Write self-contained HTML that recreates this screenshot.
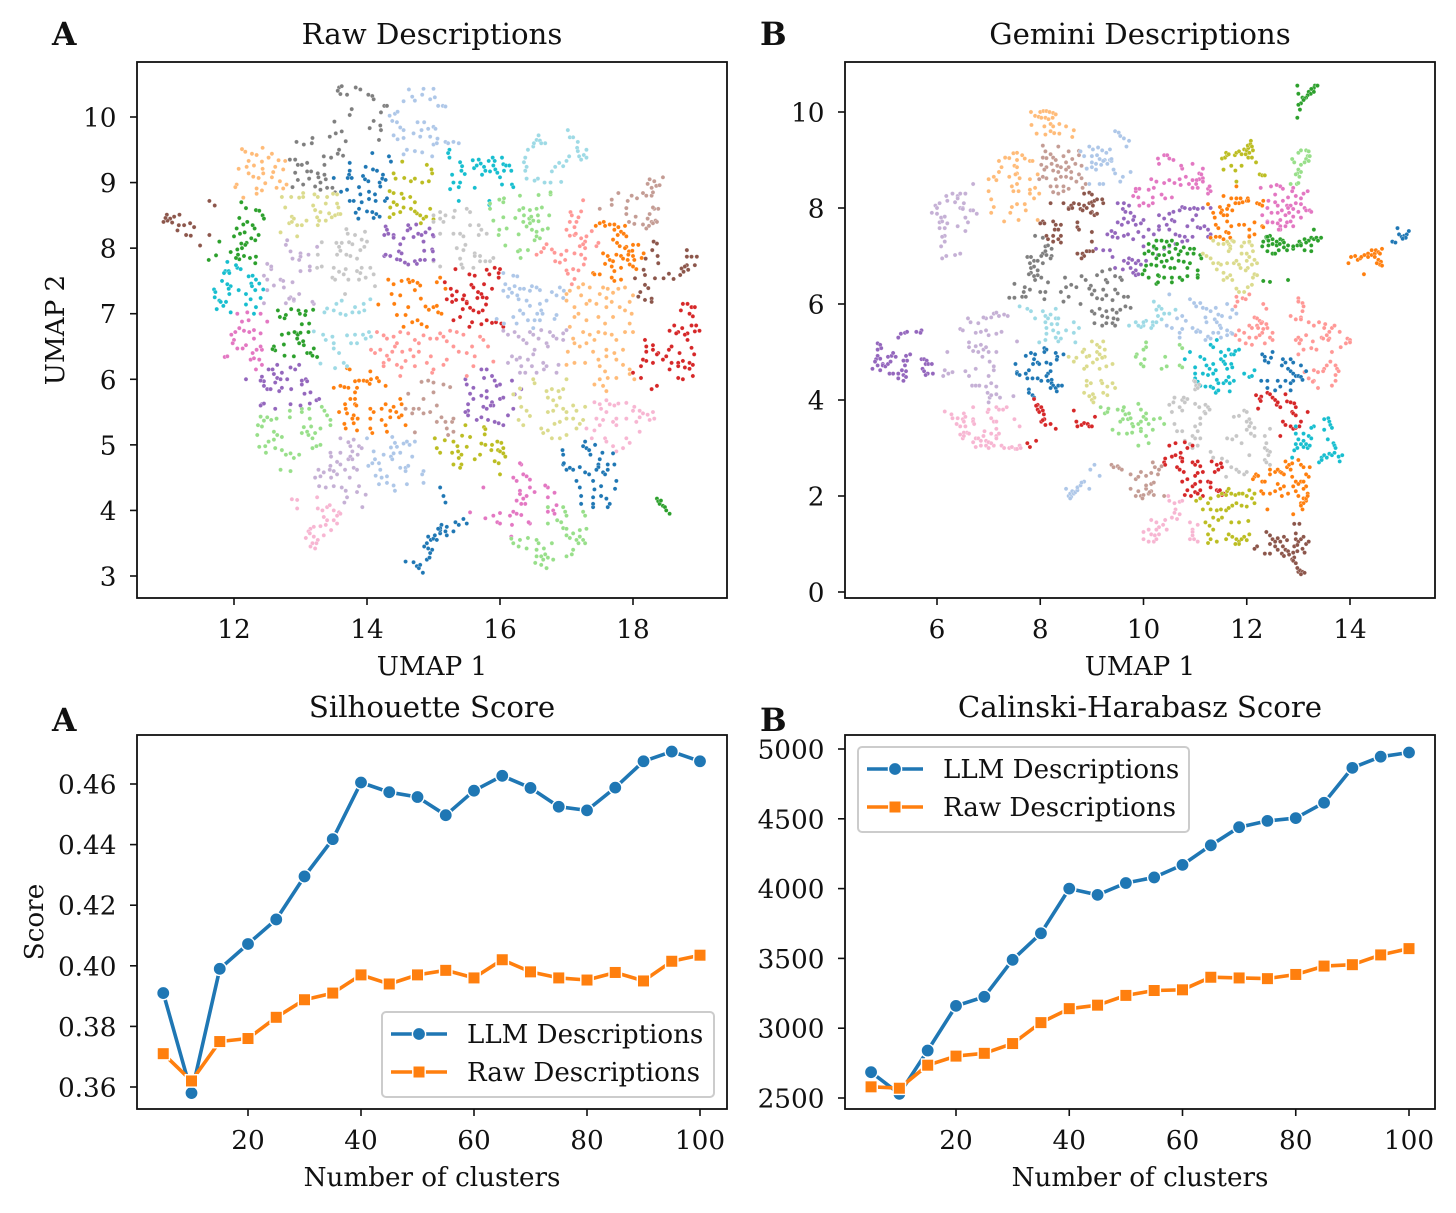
<!DOCTYPE html>
<html lang="en">
<head>
<meta charset="utf-8">
<title>UMAP clusters and cluster quality scores</title>
<style>
html,body{margin:0;padding:0;background:#fff;width:1456px;height:1213px;overflow:hidden}
svg{display:block}
text{font-family:"DejaVu Serif","Liberation Serif",serif;fill:#111}
</style>
</head>
<body>
<svg id="figure" xmlns="http://www.w3.org/2000/svg" width="1456" height="1213" viewBox="0 0 1456 1213"></svg>
<script>
// ---------- Line chart data ----------
const clusterCounts=[5,10,15,20,25,30,35,40,45,50,55,60,65,70,75,80,85,90,95,100];
const silhouetteLLM=[.391,.358,.399,.4072,.4153,.4295,.4418,.4605,.4573,.4557,.4497,.4578,.4627,.4587,.4525,.4513,.4588,.4675,.4707,.4675];
const silhouetteRaw=[.371,.362,.375,.376,.383,.3888,.391,.397,.394,.397,.3985,.396,.402,.398,.396,.3953,.3978,.395,.4015,.4035];
const calinskiLLM=[2685,2530,2840,3160,3225,3490,3680,4000,3955,4040,4080,4170,4310,4440,4485,4505,4615,4865,4945,4975];
const calinskiRaw=[2580,2570,2735,2800,2820,2890,3040,3140,3165,3235,3270,3275,3365,3360,3355,3385,3445,3455,3525,3570];
const clusterTicks=[20,40,60,80,100];
const silhouetteTicks=[0.36,0.38,0.40,0.42,0.44,0.46];
const calinskiTicks=[2500,3000,3500,4000,4500,5000];
const umapARawXTicks=[12,14,16,18];
const umapARawYTicks=[3,4,5,6,7,8,9,10];
const umapBGemXTicks=[6,8,10,12,14];
const umapBGemYTicks=[0,2,4,6,8,10];

// ---------- Panel A scatter data (x,y pairs in UMAP units) ----------
const aBrownL=[10.99,8.51,10.94,8.40,11.04,8.45,11.10,8.48,11.18,8.51,11.07,8.39,11.17,8.35,11.25,8.35,11.34,8.38,11.40,8.32,11.15,8.27,11.28,8.20,11.35,8.19,11.63,8.20,11.49,8.04,11.63,8.72,11.71,8.65,11.00,8.42,10.97,8.46];
const aBrownR=[18.31,8.10,18.36,8.07,18.29,7.97,18.37,7.88,18.19,7.84,18.38,7.77,18.16,7.67,18.03,7.54,18.18,7.59,18.33,7.54,18.46,7.54,18.54,7.61,18.61,7.53,18.71,7.59,18.73,7.69,18.81,7.74,18.83,7.67,18.93,7.74,18.81,7.97,18.81,7.87,18.88,7.87,18.96,7.87,18.18,7.44,18.11,7.33,18.23,7.39,18.08,7.26,18.18,7.21,18.28,7.23,18.28,7.18,18.78,7.72,18.76,7.64];
const aPeachTL=[12.12,9.51,12.17,9.47,12.43,9.53,12.27,9.44,12.34,9.42,12.57,9.44,12.52,9.38,12.22,9.33,12.42,9.32,12.67,9.34,12.77,9.33,12.07,9.21,12.19,9.24,12.30,9.26,12.43,9.21,12.62,9.24,12.74,9.20,12.22,9.14,12.44,9.14,12.59,9.16,12.29,9.09,12.37,9.07,12.57,9.08,12.69,9.02,12.04,8.97,12.02,8.93,12.34,8.91,12.47,8.99,12.79,8.97,12.64,8.92,12.74,8.91,12.42,8.88,12.34,8.83,12.14,8.77];
const aGray=[13.58,10.45,13.62,10.47,13.56,10.40,13.60,10.35,13.70,10.34,13.83,10.45,13.90,10.42,14.02,10.34,14.08,10.32,14.10,10.27,14.26,10.17,14.30,10.17,14.21,10.07,13.77,10.12,13.74,10.03,14.10,9.94,14.20,9.87,14.04,9.83,14.21,9.80,13.51,9.93,13.44,9.70,13.53,9.75,13.62,9.78,14.18,9.65,13.68,9.63,12.94,9.62,13.05,9.58,13.17,9.60,13.18,9.68,13.58,9.50,13.56,9.44,13.35,9.40,13.46,9.38,13.64,9.41,12.84,9.35,12.92,9.35,12.96,9.27,13.02,9.27,13.10,9.30,13.36,9.27,12.92,9.15,13.10,9.17,13.16,9.17,13.26,9.14,13.36,9.12,13.38,9.05,13.27,9.08,12.96,9.04,13.13,9.06,13.04,8.97,12.88,8.93,13.22,8.94,13.30,9.00,13.30,8.89,13.40,8.92,13.48,8.92,13.52,8.85];
const aLightBlueTop=[14.63,10.42,14.85,10.43,14.83,10.34,14.68,10.31,14.55,10.24,14.72,10.25,14.95,10.27,15.00,10.43,15.02,10.30,15.07,10.17,15.14,10.17,15.18,10.16,14.34,10.02,14.42,10.05,14.46,10.08,14.38,9.94,14.45,9.92,14.76,9.92,14.86,9.92,14.50,9.84,14.55,9.80,14.70,9.75,14.82,9.80,14.92,9.82,15.00,9.85,15.03,9.82,14.40,9.72,14.46,9.66,14.55,9.68,14.80,9.70,14.95,9.70,15.06,9.67,15.18,9.62,15.22,9.60,15.30,9.62,15.38,9.60,15.00,9.58,14.60,9.50,14.55,9.43,14.72,9.48,14.83,9.46,14.98,9.40,15.05,9.60];
const aBlueTop=[14.08,9.45,14.33,9.40,14.36,9.32,13.74,9.30,13.98,9.24,14.09,9.20,14.15,9.18,13.74,9.18,13.73,9.12,13.71,9.07,13.77,9.07,13.50,9.07,13.94,9.10,13.97,9.05,14.24,9.12,14.23,9.06,14.28,9.04,14.02,9.02,14.19,9.00,14.20,8.94,13.88,8.93,13.61,8.86,13.70,8.89,14.03,8.86,14.12,8.82,13.90,8.82,14.03,8.75,14.13,8.72,13.74,8.72,13.80,8.72,13.92,8.70,14.27,8.72,14.30,8.76,13.88,8.60,14.00,8.56,14.08,8.55,13.83,8.54,14.14,8.52,14.10,8.46,14.19,8.48,13.87,8.45];
const aOlive=[14.53,9.32,14.90,9.27,14.97,9.20,14.40,9.14,14.43,9.06,14.56,9.07,14.66,9.02,14.72,9.06,14.83,9.00,14.93,9.02,14.98,9.14,14.34,8.87,14.40,8.84,14.52,8.83,14.65,8.78,14.72,8.70,14.55,8.76,14.40,8.70,14.35,8.62,14.45,8.66,14.55,8.62,14.66,8.60,14.50,8.55,14.40,8.52,14.34,8.47,14.75,8.53,14.80,8.50,14.72,8.56,14.85,8.45,14.81,8.38,14.89,8.48,14.95,8.60,15.00,8.44];
const aCyanTop=[15.24,9.50,15.22,9.45,15.24,9.38,15.40,9.31,15.43,9.25,15.42,9.18,15.47,9.13,15.59,9.34,15.68,9.35,15.71,9.29,15.83,9.33,15.89,9.38,15.92,9.33,16.03,9.38,15.61,9.22,15.65,9.26,15.76,9.24,15.78,9.18,15.90,9.26,15.93,9.20,16.05,9.28,16.09,9.26,16.14,9.26,16.17,9.18,15.73,9.12,15.85,9.17,15.96,9.15,16.00,9.08,16.06,9.18,15.28,9.12,15.30,9.00,15.40,9.00,15.25,8.90,15.38,8.93,15.62,8.92,16.03,8.97,16.18,8.97,16.20,8.93,15.38,8.72,15.84,8.72,15.84,8.66];
const aPaleCyan=[16.38,9.38,16.36,9.31,16.42,9.50,16.50,9.55,16.51,9.60,16.55,9.65,16.58,9.72,16.60,9.64,16.62,9.60,16.68,9.60,16.40,9.24,16.38,9.18,16.40,9.06,16.57,9.06,16.52,9.03,16.67,9.00,16.76,9.00,16.78,9.17,16.83,9.24,16.89,9.30,16.95,9.25,17.00,9.33,17.04,9.40,16.92,9.01,17.02,9.80,17.05,9.69,17.10,9.69,17.17,9.62,17.16,9.53,17.17,9.48,17.26,9.42,17.30,9.38,17.19,9.40,17.22,9.35,17.30,9.50];
const aLightGreen=[15.99,8.74,16.06,8.76,16.05,8.70,15.85,8.68,15.85,8.60,16.30,8.80,16.58,8.81,16.76,8.82,16.76,8.85,16.29,8.58,16.35,8.61,16.45,8.58,16.55,8.60,16.63,8.62,15.90,8.42,16.05,8.47,16.23,8.46,16.36,8.50,16.44,8.45,16.47,8.48,16.57,8.50,16.74,8.50,16.35,8.40,16.45,8.38,16.50,8.42,16.58,8.41,16.40,8.33,16.48,8.28,16.55,8.25,16.64,8.28,16.72,8.30,15.99,8.28,16.10,8.30,15.98,8.20,16.28,8.21,16.55,8.18,16.60,8.15,16.52,8.12,16.08,8.04,16.30,7.97,16.27,7.95,16.31,7.85,16.42,7.97];
const aKhaki=[12.72,8.78,12.86,8.78,12.98,8.77,13.04,8.84,13.04,8.78,13.21,8.82,13.26,8.78,13.40,8.78,13.49,8.83,13.55,8.82,12.77,8.62,13.19,8.65,13.22,8.58,13.38,8.68,13.57,8.62,13.55,8.68,13.30,8.55,13.43,8.53,13.52,8.50,13.47,8.47,13.57,8.52,13.60,8.52,12.87,8.48,12.83,8.38,12.87,8.40,12.90,8.45,12.95,8.35,13.02,8.35,13.09,8.42,13.28,8.42,13.26,8.35,12.70,8.24,12.95,8.18,13.25,8.47,13.38,8.42];
const aGreenTop=[12.11,8.70,12.18,8.61,12.33,8.58,12.43,8.50,12.38,8.57,12.45,8.45,12.08,8.46,12.14,8.36,12.20,8.40,12.28,8.35,12.31,8.30,12.04,8.30,12.09,8.22,12.16,8.24,12.37,8.20,12.00,8.18,12.26,8.15,12.32,8.12,12.11,8.07,12.19,8.08,11.78,8.10,12.05,7.98,12.17,8.05,12.12,8.00,11.95,7.94,12.06,7.90,12.15,7.88,11.73,7.89,11.62,7.82,12.24,7.85,12.33,7.87,12.32,7.77,12.08,7.83,12.03,7.85];
const aGreenLow=[12.86,7.07,12.97,7.05,12.99,7.00,12.78,6.98,13.19,7.06,13.08,7.04,13.07,6.98,12.66,7.05,13.02,6.84,13.13,6.85,12.76,6.93,12.69,6.95,12.94,6.70,12.96,6.68,13.00,6.71,12.95,6.62,12.98,6.55,12.91,6.72,13.12,6.72,13.04,6.58,13.20,6.47,13.05,6.52,12.82,6.70,12.72,6.68,12.75,6.53,12.62,6.44,12.60,6.50,12.58,6.46,12.76,6.36,12.90,6.35,13.10,6.40,13.15,6.40,13.18,6.36,13.25,6.34];
const aCyanLeft=[11.90,7.79,11.87,7.65,11.92,7.65,11.85,7.62,11.93,7.62,12.05,7.70,12.03,7.74,12.10,7.68,11.82,7.50,11.70,7.37,11.72,7.33,11.71,7.25,11.90,7.45,11.95,7.42,11.92,7.38,11.93,7.30,11.78,7.20,11.80,7.18,11.88,7.18,11.84,7.12,11.74,7.07,11.95,7.02,12.22,7.57,12.28,7.58,12.33,7.52,12.38,7.46,12.26,7.46,12.07,7.36,12.18,7.30,12.27,7.42,12.32,7.36,12.44,7.37,12.40,7.24,12.25,7.22,12.18,7.14,12.30,7.00,12.33,7.10];
const aLightGray=[13.69,8.29,13.71,8.22,13.82,8.20,13.97,8.25,13.32,8.09,13.54,8.08,13.58,8.02,13.62,8.08,13.73,8.09,13.78,8.06,13.92,8.13,14.00,8.10,13.96,8.02,13.90,7.97,13.60,7.96,13.26,7.90,13.55,7.90,13.69,7.90,13.75,7.88,13.85,7.84,13.25,7.70,13.32,7.72,13.50,7.70,13.58,7.64,13.68,7.68,13.65,7.60,13.85,7.65,13.90,7.62,13.92,7.70,14.05,7.70,13.48,7.55,13.52,7.52,13.72,7.52,13.88,7.52,13.98,7.55,14.10,7.60,14.12,7.42,13.67,7.30,15.10,8.55,15.00,8.50,15.18,8.50,15.32,8.57,15.50,8.60,15.55,8.55,15.10,8.45,15.30,8.47,15.15,8.40,15.00,8.40,15.55,8.35,15.68,8.35,15.72,8.28,15.10,8.22,15.30,8.22,15.40,8.22,15.45,8.18,15.68,8.20,15.80,8.22,15.48,8.05,15.35,8.00,15.62,7.92,15.45,7.97,15.40,7.84,15.62,7.88,15.70,7.88,15.85,7.80,15.70,7.80,15.78,7.80,15.90,7.85,15.42,7.75,15.00,7.80,15.10,7.72,15.44,7.70,15.60,7.70];
const aPaleLilac=[12.80,8.12,12.78,8.05,13.25,8.02,12.85,7.95,13.00,7.92,13.00,7.87,13.12,7.90,12.88,7.84,12.98,7.82,12.50,7.76,12.56,7.68,12.56,7.72,13.00,7.65,13.14,7.66,13.14,7.72,12.45,7.58,12.50,7.52,12.70,7.52,12.74,7.50,12.75,7.40,12.88,7.48,12.60,7.43,12.50,7.36,12.85,7.25,12.98,7.30,12.83,7.23,12.90,7.20,13.20,7.15,13.18,7.18,12.78,7.16,12.90,7.22,12.45,7.16];
const aPurpleTop=[14.28,8.33,14.30,8.28,14.26,8.20,14.32,8.22,14.40,8.20,14.40,8.16,14.62,8.35,14.65,8.30,14.61,8.27,14.74,8.36,14.77,8.22,14.82,8.20,14.88,8.24,15.00,8.18,14.94,8.30,14.99,8.20,14.70,8.17,14.55,8.15,14.85,8.10,14.98,7.98,14.86,7.96,14.50,8.06,14.48,7.95,14.52,7.92,14.26,7.88,14.28,7.90,14.35,7.88,14.45,7.83,14.50,7.82,14.57,7.78,14.72,7.80,14.75,7.76,14.80,7.82,14.87,7.82,14.99,7.95,14.62,7.75,15.00,7.82];
const aOrangeUp=[14.32,7.52,14.17,7.14,14.40,7.45,14.52,7.50,14.62,7.52,14.69,7.50,14.76,7.47,14.80,7.43,14.72,7.36,14.64,7.48,14.50,7.28,14.37,7.30,14.41,7.15,14.62,7.10,14.81,7.23,14.88,7.11,14.93,7.06,15.00,7.10,15.05,7.12,15.07,7.02,14.76,6.90,14.82,6.84,14.90,6.80,14.58,6.98,14.45,6.98,15.12,7.00,15.05,7.48,15.10,7.55,15.18,7.38,14.55,6.80,14.68,6.87];
const aRedMid=[15.17,7.48,15.33,7.68,15.54,7.60,15.62,7.58,15.57,7.44,15.60,7.40,15.67,7.33,15.72,7.30,15.26,7.38,15.28,7.28,15.35,7.34,15.46,7.28,15.20,7.22,15.28,7.18,15.34,7.21,15.44,7.22,15.50,7.18,15.66,7.24,15.74,7.25,15.80,7.24,15.44,7.07,15.50,7.16,15.55,7.09,15.60,7.05,15.68,7.02,15.74,7.05,15.79,7.14,15.80,6.90,15.88,6.86,15.94,6.87,15.88,7.38,15.76,7.45,15.98,7.62,15.98,7.55,15.80,7.67,15.92,7.70,16.00,7.68,15.84,7.60,15.30,6.90,15.40,6.95,15.58,6.87,15.54,6.80,15.72,6.84,16.02,6.85,16.05,6.80];
const aSalmonUp=[17.25,8.73,17.06,8.55,17.08,8.50,17.22,8.56,17.18,8.47,17.05,8.40,17.15,8.40,17.12,8.32,17.12,8.20,17.00,8.28,17.05,8.19,17.14,8.22,17.30,8.18,17.22,8.15,17.38,8.26,17.28,8.10,17.45,8.03,17.48,8.08,16.70,8.06,16.66,8.00,16.62,7.94,16.55,7.90,16.78,7.98,16.82,7.93,16.92,7.90,17.00,7.96,17.12,7.92,17.20,8.03,17.25,8.06,17.28,8.00,17.22,7.90,17.28,7.84,17.26,7.75,16.83,7.80,16.90,7.78,16.98,7.82,17.00,7.66,17.10,7.68,17.02,7.61,17.18,7.66,17.12,7.53,17.08,7.45];
const aOrangeUpR=[17.44,8.34,17.50,8.38,17.56,8.40,17.58,8.34,17.65,8.36,17.72,8.36,17.78,8.32,17.88,8.34,17.72,8.28,17.82,8.25,17.77,8.20,17.86,8.22,17.90,8.18,17.70,8.13,17.76,8.08,17.80,8.03,17.90,8.02,18.00,8.05,18.08,8.05,17.88,8.00,17.94,7.95,17.99,7.96,17.55,7.92,17.62,7.88,17.75,7.90,17.82,7.88,17.93,7.90,18.00,7.88,18.02,7.82,18.16,7.92,18.13,7.85,17.65,7.82,17.70,7.80,17.85,7.84,17.92,7.82,17.95,7.75,17.58,7.76,17.68,7.72,17.72,7.65,17.82,7.70,18.00,7.72,18.05,7.68,17.40,7.62,17.42,7.60,17.50,7.60,17.68,7.55,17.82,7.52,17.72,7.50];
const aTaupeUp=[18.25,9.05,18.32,9.02,18.45,9.08,18.22,8.98,18.28,8.92,18.35,8.95,18.40,8.96,18.15,8.84,18.20,8.80,18.28,8.80,18.30,8.85,17.78,8.84,17.98,8.80,17.68,8.74,17.68,8.66,17.50,8.60,17.92,8.72,17.90,8.61,18.06,8.76,18.32,8.60,18.30,8.62,18.38,8.60,17.90,8.52,18.04,8.48,18.25,8.52,18.22,8.45,18.28,8.40,18.34,8.42,17.94,8.40,18.02,8.37,18.15,8.36,18.20,8.30,18.24,8.34,18.30,8.38,18.36,8.40,14.82,5.96,14.92,5.98,15.00,5.95,15.15,5.92,15.25,5.88,14.62,5.78,14.85,5.70,15.00,5.80,15.05,5.60,14.58,5.55,14.70,5.55,14.78,5.55,14.68,5.48,14.85,5.48,14.95,5.50,15.05,5.35,15.12,5.42,15.28,5.35,15.30,5.40,15.20,5.25,15.22,5.15,15.30,5.20,15.18,5.35,15.02,5.10,14.72,5.19];
const aPeachBig=[17.25,7.45,17.18,7.40,17.05,7.35,17.00,7.30,17.22,7.28,17.35,7.40,17.55,7.40,17.62,7.38,17.70,7.32,17.78,7.38,17.88,7.40,18.00,7.28,17.95,7.18,17.50,7.30,17.60,7.24,17.68,7.18,17.00,7.20,17.12,7.10,17.18,7.00,17.30,7.15,17.35,7.20,17.45,7.15,17.60,7.10,17.80,7.10,17.88,7.05,17.98,7.00,17.12,6.95,17.30,6.90,17.48,6.95,17.58,6.85,17.70,6.95,17.95,6.85,17.05,6.80,17.10,6.62,17.25,6.72,17.35,6.68,17.48,6.72,17.58,6.70,17.68,6.68,17.75,6.60,17.88,6.72,18.00,6.72,17.12,6.55,17.20,6.50,17.30,6.55,17.42,6.60,17.60,6.45,17.72,6.40,17.85,6.45,17.00,6.22,17.02,6.42,17.12,6.25,17.28,6.25,17.40,6.42,17.48,6.30,17.60,6.35,17.75,6.30,17.85,6.22,17.95,6.15,17.50,6.20,17.58,6.12,17.62,6.02,17.55,5.90,17.42,5.92,17.75,6.02,17.95,6.08,18.02,6.00,17.60,5.82,17.50,6.00];
const aRedRight=[18.75,7.15,18.72,7.05,18.82,7.15,18.88,7.10,18.93,7.10,18.90,6.96,18.85,7.00,18.95,6.82,18.55,6.74,18.62,6.82,18.88,6.82,18.68,6.72,18.74,6.78,18.82,6.70,18.93,6.73,19.00,6.74,18.18,6.60,18.20,6.50,18.30,6.52,18.20,6.42,18.38,6.40,18.30,6.45,18.54,6.45,18.58,6.50,18.70,6.40,18.92,6.38,18.88,6.48,18.82,6.60,18.78,6.68,18.65,6.70,18.12,6.20,18.15,6.30,18.20,6.28,18.30,6.25,18.36,6.38,18.45,6.30,18.50,6.35,18.58,6.25,18.68,6.25,18.75,6.28,18.85,6.25,18.90,6.22,18.85,6.16,18.78,6.18,18.68,6.20,18.55,6.15,18.68,6.02,18.75,6.00,18.90,6.05,18.36,5.90,18.28,5.85,18.00,6.10,18.12,6.02];
const aLightBlueMid=[16.05,7.62,16.20,7.58,16.26,7.57,16.08,7.45,16.14,7.38,16.18,7.32,16.05,7.35,16.12,7.26,16.22,7.42,16.30,7.38,16.26,7.28,16.36,7.38,16.48,7.42,16.55,7.40,16.60,7.36,16.45,7.35,16.28,7.22,16.40,7.20,16.45,7.12,16.30,7.05,16.35,7.00,16.20,6.95,16.60,7.15,16.62,7.05,16.64,7.00,16.56,7.00,16.70,7.20,16.78,7.33,16.90,7.40,16.96,7.35,16.85,7.28,16.95,7.24,16.52,6.90,16.42,6.90,16.60,6.90,16.82,6.92,16.85,6.98,15.95,6.92,16.06,6.85,16.25,6.85,16.50,6.78];
const aLilacMid=[16.05,6.74,16.12,6.68,16.22,6.72,16.28,6.65,16.35,6.60,16.40,6.55,16.45,6.72,16.50,6.68,16.62,6.75,16.58,6.62,16.75,6.72,16.80,6.66,16.85,6.62,16.70,6.55,16.95,6.60,16.72,6.50,16.52,6.45,16.50,6.38,16.18,6.35,16.12,6.25,16.25,6.30,16.30,6.33,16.32,6.20,16.42,6.30,16.48,6.20,16.65,6.25,16.70,6.20,16.88,6.22,16.85,6.10,16.38,6.10,16.30,6.10,16.55,6.10,16.66,6.15,17.00,6.75,16.95,6.70];
const aPurpleLow=[15.48,6.00,15.50,5.92,15.60,5.87,15.72,6.15,15.80,6.15,15.76,6.02,15.88,6.05,15.92,5.98,15.95,5.90,16.00,5.92,15.55,5.78,15.60,5.70,15.52,5.62,15.72,5.75,15.80,5.82,15.80,5.72,15.88,5.65,16.00,5.70,16.05,5.72,15.90,5.60,15.75,5.58,15.80,5.55,15.86,5.60,15.52,5.52,15.52,5.45,15.48,5.50,15.65,5.38,15.72,5.42,15.82,5.38,15.92,5.35,15.98,5.33,16.05,5.30,16.12,5.45,16.20,5.55,16.22,5.77,16.32,5.85,16.18,5.98];
const aKhakiLow=[16.50,6.00,16.52,5.94,16.30,5.86,16.20,5.77,16.30,5.72,17.00,6.00,16.95,5.85,16.70,5.82,16.78,5.85,16.88,5.82,16.72,5.72,16.80,5.68,16.90,5.72,17.10,5.60,16.95,5.55,16.85,5.60,16.72,5.50,16.80,5.52,17.00,5.50,17.15,5.52,17.28,5.58,16.32,5.58,16.40,5.52,16.45,5.44,16.28,5.38,16.35,5.30,16.82,5.32,16.90,5.35,17.00,5.40,17.10,5.40,17.25,5.38,17.20,5.32,16.62,5.25,16.65,5.18,16.72,5.22,17.15,5.25,16.78,5.10,16.90,5.10,17.00,5.15];
const aPinkUp=[17.42,5.65,17.50,5.62,17.60,5.68,17.65,5.62,17.72,5.60,17.78,5.63,17.52,5.55,17.60,5.50,17.90,5.64,18.00,5.52,18.02,5.58,18.10,5.52,18.15,5.48,18.22,5.46,18.30,5.50,18.32,5.40,17.45,5.40,17.55,5.38,17.70,5.35,17.75,5.40,17.90,5.40,18.05,5.35,18.10,5.42,18.25,5.38,17.30,5.25,17.42,5.22,17.50,5.30,17.75,5.30,17.38,5.10,17.58,5.10,17.60,5.05,17.70,4.98,17.75,4.90,17.85,4.95,17.95,5.03,17.90,5.10,18.10,5.20];
const aOliveLow=[15.48,5.30,15.02,5.10,15.17,5.07,15.43,5.14,15.55,5.12,15.76,5.27,15.78,5.24,15.77,5.16,15.72,5.02,15.78,5.00,15.88,5.00,16.02,5.03,15.87,4.92,15.97,4.92,16.05,4.95,16.00,4.90,16.05,4.87,16.08,4.82,15.05,4.95,15.10,4.88,15.30,5.05,15.36,4.98,15.42,4.85,15.50,4.97,15.37,4.90,15.28,4.88,15.38,4.80,15.30,4.70,15.42,4.70,15.40,4.65,15.62,4.78,15.70,4.85,15.92,4.75,15.98,4.72,16.00,4.55,15.96,5.05];
const aBlueRight=[16.94,4.92,16.95,4.85,17.28,5.05,17.25,4.98,17.30,4.95,17.34,4.92,17.36,4.85,17.43,5.00,17.54,4.88,17.50,4.78,17.70,4.87,16.95,4.70,17.00,4.62,16.96,4.72,17.05,4.65,17.10,4.62,17.20,4.66,17.28,4.58,17.34,4.55,17.48,4.70,17.48,4.66,17.45,4.62,17.55,4.58,17.62,4.70,17.72,4.70,17.62,4.62,17.58,4.55,17.75,4.45,17.15,4.45,17.40,4.45,17.20,4.35,17.42,4.32,17.52,4.37,17.73,4.33,17.22,4.22,17.40,4.20,17.52,4.22,17.60,4.18,17.65,4.10,17.40,4.05,17.62,4.05,17.22,4.10,17.40,4.10];
const aPinkLow=[16.32,4.70,16.30,4.72,16.35,4.55,16.20,4.50,16.25,4.45,16.40,4.52,16.45,4.47,16.30,4.30,16.30,4.25,16.45,4.35,16.35,4.18,16.40,4.22,16.52,4.28,16.25,4.15,16.32,4.10,16.38,4.10,16.20,3.98,16.25,3.95,16.32,3.93,16.45,3.80,16.72,4.35,16.82,4.27,16.72,4.20,16.85,4.08,16.80,4.00,16.72,3.98,16.82,3.95,16.68,4.38,15.75,4.35,15.55,3.97,15.78,3.88,15.90,3.92,15.96,3.82,16.00,3.96,16.15,3.92,16.00,3.80,16.18,3.78,16.43,3.82,16.17,3.60];
const aLightGreenBot=[16.72,4.05,16.95,4.05,16.98,3.98,17.00,3.92,17.25,3.98,17.28,3.92,16.72,3.80,16.86,3.85,16.92,3.82,16.95,3.73,17.00,3.72,17.10,3.65,17.20,3.70,17.30,3.72,17.20,3.60,17.15,3.55,17.25,3.55,17.18,3.50,17.28,3.50,17.00,3.62,17.05,3.58,16.17,3.57,16.30,3.55,16.42,3.58,16.55,3.55,16.58,3.50,16.20,3.50,16.28,3.45,16.40,3.42,16.55,3.40,16.66,3.42,16.78,3.50,16.62,3.30,16.68,3.33,16.55,3.30,16.65,3.25,16.72,3.28,16.80,3.25,16.53,3.20,16.62,3.17,16.70,3.12,17.00,3.30,17.08,3.33,17.10,3.40];
const aGreenSmall=[18.36,4.18,18.38,4.14,18.40,4.10,18.42,4.15,18.45,4.07,18.48,4.05,18.50,4.00,18.55,3.95];
const aBlueLow=[14.58,3.22,14.70,3.21,14.75,3.15,14.78,3.12,14.80,3.17,14.84,3.05,14.90,3.25,14.95,3.35,14.94,3.28,14.98,3.40,14.92,3.42,14.86,3.45,14.90,3.50,14.92,3.60,14.96,3.55,15.00,3.57,15.05,3.55,15.02,3.62,15.10,3.65,15.18,3.68,15.20,3.62,15.30,3.68,15.12,3.78,15.10,3.70,15.10,3.73,15.20,3.75,15.07,3.72,15.33,3.82,15.38,3.78,15.45,3.87,15.50,3.80,15.10,4.35,15.15,4.22,15.18,4.12];
const aLilacLow=[13.60,5.10,13.72,5.04,13.80,5.08,13.75,4.98,13.88,4.98,13.78,4.90,13.92,4.95,13.60,4.88,13.72,4.78,13.75,4.82,13.45,4.88,13.46,4.82,13.45,4.68,13.55,4.74,13.60,4.70,13.67,4.62,13.78,4.78,13.86,4.85,13.80,4.65,13.85,4.62,13.74,4.50,13.22,4.50,13.27,4.62,13.35,4.58,13.30,4.52,13.44,4.62,13.50,4.60,13.46,4.50,13.55,4.55,13.28,4.37,13.38,4.35,13.50,4.37,13.62,4.35,13.68,4.30,13.70,4.20,13.66,4.12,13.88,4.37,13.93,4.05,13.85,4.28,13.98,4.24];
const aBlueLight=[14.38,5.12,14.42,5.03,14.00,5.10,14.36,4.96,14.45,4.97,14.55,5.02,14.60,5.05,14.64,5.00,14.72,5.05,14.10,4.90,14.25,4.85,14.36,4.82,14.40,4.87,14.50,4.88,14.68,4.82,14.02,4.68,14.12,4.78,14.08,4.72,14.18,4.72,14.20,4.62,14.30,4.52,14.13,4.53,14.22,4.50,14.38,4.78,14.50,4.65,14.58,4.65,14.62,4.68,14.58,4.60,14.30,4.42,14.18,4.40,14.40,4.38,14.60,4.40,14.42,4.30,14.85,4.60,14.83,4.55,14.85,4.42];
const aPinkLowL=[12.87,4.17,12.95,4.16,12.95,4.03,13.25,4.20,13.26,4.03,13.33,4.00,13.40,4.05,13.44,4.08,13.50,4.00,13.58,3.97,13.60,3.95,13.55,3.92,13.35,3.90,13.50,3.85,13.40,3.85,13.38,3.78,13.30,3.76,13.46,3.70,13.55,3.80,13.15,3.72,13.12,3.68,13.20,3.75,13.14,3.65,13.08,3.58,13.20,3.60,13.26,3.55,13.24,3.50,13.18,3.50,13.15,3.45,13.22,3.42,13.35,3.62];
const aGreenLeftLow=[12.40,5.43,12.45,5.37,12.50,5.42,12.56,5.38,12.64,5.40,12.84,5.52,12.84,5.42,12.36,5.30,12.42,5.28,13.02,5.55,13.02,5.50,13.13,5.55,13.32,5.58,13.36,5.52,13.40,5.45,13.45,5.38,13.45,5.30,13.14,5.40,13.05,5.27,13.10,5.20,13.16,5.28,13.22,5.18,13.30,5.25,13.02,5.18,13.12,5.15,13.18,5.10,12.35,5.15,12.60,5.20,12.65,5.15,12.72,5.12,12.60,5.08,12.52,5.05,12.47,4.98,12.38,4.97,12.62,4.95,12.48,4.88,13.24,4.98,13.30,5.00,13.18,4.95,12.72,4.92,12.78,4.85,12.85,4.87,12.90,4.80,12.98,4.85,12.70,4.62,12.85,4.60];
const aOrangeLow=[13.70,6.17,13.74,6.15,13.50,5.87,13.60,5.90,13.66,5.88,13.72,5.87,13.82,5.97,13.88,5.98,13.95,5.98,14.00,5.97,14.06,6.00,14.04,5.93,14.05,6.12,14.15,6.02,14.18,5.97,14.28,5.90,13.85,5.87,13.82,5.80,13.82,5.70,13.67,5.62,13.68,5.55,13.75,5.70,13.82,5.62,13.84,5.60,13.58,5.50,13.70,5.48,13.80,5.45,13.86,5.40,13.78,5.40,13.66,5.32,13.68,5.25,13.80,5.33,13.85,5.22,14.05,5.55,14.05,5.40,14.05,5.25,14.08,5.18,14.10,5.50,14.22,5.55,14.28,5.62,14.40,5.58,14.35,5.52,14.35,5.42,14.22,5.38,14.28,5.30,14.44,5.50,14.52,5.62,14.50,5.70,14.48,5.42,14.52,5.45,14.30,5.20,14.58,5.30];
const aPurpleLeft=[12.18,6.00,12.42,6.04,12.45,5.97,12.52,6.15,12.58,6.15,12.60,6.08,12.65,6.02,12.62,5.95,12.70,6.00,12.65,6.22,12.72,6.10,12.80,6.00,12.85,6.18,12.92,6.15,12.98,6.22,12.40,5.98,12.45,5.90,12.50,5.85,12.55,5.85,12.68,5.82,12.72,5.87,12.86,5.85,13.02,5.98,13.08,6.00,13.10,5.97,13.02,5.92,13.06,5.78,13.15,5.80,13.24,5.68,13.00,5.60,13.14,5.63,12.85,5.62,12.62,5.55,12.42,5.62,12.40,5.60,12.45,5.63,13.28,5.70];
const aPinkLeft=[12.02,6.72,11.96,6.68,12.00,6.60,11.98,6.55,12.05,6.47,12.13,6.47,12.18,6.52,12.30,6.62,12.23,6.72,12.15,6.74,12.08,6.78,12.30,6.75,12.40,6.70,12.34,6.45,12.42,6.45,12.40,6.50,12.28,6.40,12.25,6.30,12.30,6.32,12.33,6.15,11.86,6.34,11.90,6.35,12.38,6.30,12.42,6.22,12.40,7.00,12.50,6.88,12.22,6.90,12.12,6.88,12.05,7.00,12.20,7.02];
const aPaleCyanMid=[13.34,6.68,13.38,6.60,13.50,6.55,13.48,6.65,13.70,6.67,13.76,6.55,13.82,6.68,13.94,6.68,13.98,6.62,13.62,7.20,13.40,7.08,13.36,7.02,13.50,7.05,13.60,7.00,13.68,6.98,13.78,7.02,13.82,7.10,13.88,7.02,13.96,7.05,13.54,7.15,13.50,6.47,13.58,6.40,13.70,6.20,13.30,6.24,13.52,6.17,13.65,6.25,13.20,6.73,13.85,6.55,14.03,6.72,14.06,6.65,14.05,7.22,13.95,7.15];
const aSalmonMid=[14.15,6.72,14.25,6.67,14.30,6.62,14.40,6.65,14.50,6.72,14.62,6.70,14.72,6.60,14.78,6.55,14.85,6.67,14.95,6.62,14.06,6.45,14.12,6.40,14.20,6.45,14.30,6.36,14.38,6.42,14.42,6.50,14.45,6.55,14.53,6.42,14.65,6.45,14.70,6.35,14.78,6.42,14.25,6.25,14.33,6.30,14.45,6.22,14.52,6.18,14.58,6.28,14.72,6.20,14.90,6.25,14.96,6.35,14.98,6.10,14.50,6.05,14.25,6.20,15.05,6.62,15.10,6.70,15.15,6.65,15.20,6.58,15.25,6.74,15.35,6.72,15.45,6.68,15.30,6.50,15.38,6.42,15.50,6.40,15.58,6.50,15.62,6.35,15.70,6.65,15.75,6.60,15.82,6.50,15.90,6.27,15.20,6.30,15.50,6.05,15.60,6.20,15.15,6.22,15.00,6.15];

// ---------- Panel B scatter data (x,y pairs in UMAP units) ----------
const bPeachTop=[7.82,10.00,7.90,9.92,7.97,9.90,8.00,10.00,8.06,10.02,8.12,10.02,8.18,10.00,8.25,9.98,8.30,9.95,8.02,9.88,8.10,9.88,8.16,9.85,8.24,9.88,7.83,9.73,8.08,9.70,8.20,9.75,8.25,9.70,8.37,9.75,8.50,9.70,8.65,9.62,7.93,9.55,8.10,9.53,8.20,9.60,8.27,9.56,8.37,9.55,8.62,9.48];
const bPeachLeft=[7.20,8.98,7.10,8.65,7.00,8.60,7.15,8.58,7.20,8.75,7.25,8.85,7.32,9.05,7.40,9.04,7.48,9.14,7.55,9.15,7.65,9.10,7.55,9.00,7.70,9.03,7.80,8.98,7.85,8.98,7.50,8.88,7.55,8.85,7.55,8.72,7.40,8.65,7.52,8.70,7.60,8.62,7.80,8.60,7.95,8.70,7.55,8.50,7.45,8.45,7.48,8.35,7.58,8.35,7.80,8.38,7.90,8.42,7.80,8.30,7.88,8.20,7.98,8.30,7.00,8.35,7.05,8.18,7.10,8.02,7.05,7.90,7.42,7.90,7.45,8.02,7.55,8.08,7.70,8.08,7.72,7.95,7.95,7.75,7.30,7.72,7.58,7.75];
const bTaupe=[8.05,9.30,8.35,9.28,8.10,9.18,8.20,9.12,8.55,9.18,8.75,9.19,8.05,9.05,8.12,9.04,8.25,9.05,8.30,9.00,8.45,9.08,8.50,8.95,8.62,9.02,8.75,9.10,8.02,8.90,8.12,8.85,8.22,8.92,8.33,8.88,8.40,8.85,8.55,8.85,8.68,8.92,8.80,8.88,8.08,8.80,8.25,8.78,8.35,8.75,8.50,8.80,8.60,8.75,8.75,8.70,8.90,8.82,7.98,8.60,8.05,8.65,8.12,8.62,8.30,8.60,8.40,8.65,8.50,8.65,8.60,8.62,8.70,8.55,8.80,8.62,8.88,8.50,8.20,8.45,8.32,8.45,8.45,8.45,8.55,8.40,8.82,8.42,8.25,8.33,8.35,8.30,8.45,8.35];
const bLightBlueTop=[9.45,9.60,9.52,9.57,9.55,9.50,9.62,9.45,9.72,9.40,9.67,9.28,8.95,9.28,9.02,9.22,9.12,9.26,9.20,9.20,9.28,9.15,9.35,9.22,8.78,9.18,8.85,9.08,9.00,9.08,9.10,9.10,9.15,9.02,9.25,9.00,9.22,8.98,9.35,9.00,9.00,8.95,9.08,8.92,9.18,8.90,9.30,8.92,8.90,8.82,9.00,8.85,9.08,8.80,9.38,8.98,9.38,9.02,9.42,8.80,9.45,8.72,9.60,8.65,9.75,8.75,9.55,8.55,8.95,8.50,9.15,8.50,9.22,8.50];
const bLilacLeft=[6.70,8.50,6.18,8.25,6.20,8.15,6.30,8.30,6.40,8.25,6.45,8.30,6.40,8.20,6.35,8.12,6.52,8.10,6.45,8.00,6.50,8.00,6.55,8.30,6.05,8.10,5.97,8.05,6.00,8.00,5.90,7.90,6.00,7.88,6.08,7.80,6.15,7.82,6.50,7.98,6.65,7.95,6.55,7.80,6.60,7.70,6.70,7.95,6.77,7.88,6.05,7.70,6.10,7.72,6.20,7.68,6.05,7.58,6.15,7.58,6.15,7.42,6.10,7.40,6.15,7.30,6.08,7.20,6.40,7.62,6.55,7.52,6.45,7.05,6.35,7.02,6.18,7.00,6.10,6.95];
const bBrown=[8.85,8.30,8.95,8.32,9.00,8.28,8.20,8.10,8.45,8.10,8.55,8.00,8.65,8.10,8.60,8.05,8.75,8.08,8.85,8.05,8.95,8.10,9.00,8.12,9.05,8.15,9.10,8.18,9.20,8.18,9.22,8.10,8.62,8.00,8.55,7.98,8.78,7.98,8.82,7.95,8.90,8.00,9.00,7.92,8.98,7.90,9.02,8.05,9.05,7.85,9.10,7.88,8.05,7.72,8.08,7.68,8.00,7.68,8.25,7.72,8.30,7.65,8.40,7.65,8.28,7.55,8.35,7.55,8.25,7.42,8.40,7.42,8.12,7.42,8.15,7.35,8.25,7.30,8.35,7.35,8.40,7.28,8.72,7.70,8.72,7.60,8.75,7.55,9.00,7.50,9.00,7.30,9.02,7.10,8.72,7.05,8.82,7.05,8.85,7.00,8.95,7.10,8.80,6.95,8.90,7.10];
const bGray=[7.90,7.42,8.05,7.38,8.10,7.20,8.15,7.22,8.22,7.15,8.05,7.05,8.10,7.10,8.02,7.00,8.12,7.02,8.22,7.00,8.20,6.95,7.75,6.98,7.82,6.98,7.80,6.85,7.88,6.90,7.95,6.90,8.05,6.85,7.82,6.75,7.88,6.78,7.95,6.70,7.82,6.65,7.78,6.62,7.95,6.60,7.88,6.58,7.90,6.50,8.02,6.55,8.15,6.45,7.50,6.42,7.70,6.35,7.68,6.25,7.65,6.15,7.72,6.15,7.50,6.13,7.40,6.13,7.80,6.30,8.00,6.25,8.10,6.25,8.08,6.10,8.40,6.25,8.50,6.35,8.55,6.15,8.45,6.05,8.48,6.55,8.60,6.40,8.70,6.35,8.80,6.58,8.88,6.50,8.98,6.38,8.95,6.32,9.00,6.20,9.10,6.12,9.05,6.28,9.20,6.10,9.22,6.30,9.27,6.50,9.30,6.45,9.45,6.58,9.55,6.55,9.58,6.50,9.10,6.60,9.20,6.68,9.35,6.72,9.45,6.30,9.50,6.22,9.62,6.15,9.28,6.18,9.40,6.08,9.70,6.15,9.75,5.92,9.65,5.95,9.55,5.88,9.48,5.82,9.40,5.88,9.28,5.85,9.15,5.90,9.05,5.80,9.00,5.85,9.20,5.75,9.30,5.72,9.42,5.70,9.50,5.68,9.28,5.60,9.40,5.60,9.20,5.55,9.45,5.55,8.78,6.00,9.05,5.60];
const bPurpleTop=[9.50,8.10,9.62,8.10,9.60,7.98,9.72,8.05,9.65,7.92,9.75,7.90,9.82,7.82,9.62,7.78,9.50,7.70,9.58,7.65,9.70,7.70,9.80,7.75,9.85,7.65,9.95,7.68,10.00,7.75,9.38,7.52,9.30,7.45,9.40,7.40,9.45,7.48,9.50,7.38,9.62,7.42,9.70,7.45,9.80,7.35,9.90,7.50,10.00,7.40,10.10,7.55,10.20,7.45,10.30,7.55,10.45,7.65,10.50,7.55,10.55,7.75,10.60,7.72,10.50,7.88,10.58,7.92,10.70,7.95,10.75,8.02,10.80,8.00,10.90,7.98,10.98,8.00,11.05,7.98,11.15,8.00,11.30,8.00,11.02,7.85,10.95,7.75,10.85,7.62,11.05,7.60,11.10,7.58,11.18,7.62,11.25,7.55,11.30,7.45,11.25,7.40,10.30,7.85,10.40,7.78,10.30,7.62,10.62,7.45,10.70,7.42,10.80,7.40,10.85,7.32,10.62,7.25,10.75,7.30,10.95,7.40,9.08,7.15,9.22,7.12,9.35,7.12,9.40,6.98,9.62,6.90,9.70,6.85,9.72,6.95,9.78,6.92,9.85,6.85,9.90,6.90,9.95,6.82,9.75,6.75,9.85,6.70,9.80,6.65,9.85,6.60,9.90,6.62,9.60,6.72,9.45,6.75,10.05,6.90,10.00,7.20,10.20,7.18,10.28,7.02,10.40,7.15,10.50,7.20];
const bPinkTop=[10.28,9.03,10.40,9.10,10.46,9.10,10.50,9.03,10.58,9.00,10.30,8.92,10.75,8.82,10.73,8.88,10.95,8.92,10.70,8.60,10.82,8.65,10.95,8.58,11.08,8.60,11.15,8.62,11.08,8.72,11.15,8.82,11.12,8.70,11.03,8.58,10.15,8.60,10.25,8.55,10.40,8.52,10.50,8.58,10.60,8.52,10.72,8.48,10.88,8.50,11.02,8.50,11.15,8.55,11.25,8.40,11.28,8.45,10.95,8.42,11.05,8.42,10.10,8.38,10.20,8.42,10.35,8.28,9.90,8.22,10.00,8.10,10.10,8.05,10.18,8.10,9.92,8.40,9.85,8.35,9.80,8.25,9.92,8.05,10.18,8.22,10.42,8.20,10.55,8.22,11.25,8.30,11.30,8.35,9.85,8.40];
const bPinkRight=[12.27,8.42,12.47,8.45,12.58,8.48,12.65,8.45,12.70,8.40,12.90,8.42,12.88,8.35,12.95,8.25,13.05,8.20,13.10,8.30,13.18,8.35,12.80,8.22,12.55,8.28,12.42,8.15,12.55,8.12,12.60,8.05,12.70,8.15,12.78,8.05,12.85,8.05,12.95,8.10,13.05,8.08,13.12,8.00,12.40,8.00,12.48,7.90,12.60,7.90,12.68,7.95,12.80,8.00,12.90,7.98,13.00,7.92,13.15,7.95,13.22,7.95,13.25,7.92,12.30,7.85,12.40,7.72,12.50,7.70,12.65,7.75,12.75,7.85,12.82,7.90,12.78,7.70,12.90,7.82,12.75,7.62,12.85,7.72,12.65,7.62,12.60,7.68,13.05,7.80,12.65,7.55,12.90,7.62,12.62,7.55,12.40,7.70];
const bOliveTop=[11.52,9.03,11.58,9.05,11.62,9.10,11.60,9.15,11.65,9.12,11.77,9.10,11.80,9.15,11.85,9.18,11.90,9.12,11.95,9.22,11.98,9.12,12.00,9.20,12.03,9.25,12.05,9.15,12.02,9.30,12.07,9.33,12.10,9.28,12.12,9.20,12.08,9.40,12.03,9.05,11.55,8.80,11.70,8.88,11.78,8.78,11.90,8.88,11.80,8.55,12.10,9.05,12.18,8.95,12.25,8.70,12.30,8.68,12.35,8.68];
const bLightGreenTop=[13.00,9.15,13.05,9.20,13.15,9.20,13.20,9.18,13.18,9.08,13.22,9.08,13.15,9.02,12.88,9.02,12.92,8.95,13.05,8.90,13.12,8.95,13.00,8.80,13.05,8.75,12.98,8.72,12.95,8.70,13.02,8.65,12.97,8.50,13.00,8.52,12.85,8.50,13.20,8.98];
const bGreenTop=[13.32,10.55,13.37,10.55,13.30,10.50,13.25,10.48,13.20,10.42,13.24,10.38,13.30,10.42,13.18,10.35,13.15,10.30,12.98,10.55,13.00,10.38,13.08,10.30,13.12,10.28,13.10,10.25,13.05,10.18,13.00,10.15,12.98,9.88,13.03,10.05];
const bOrangeMid=[11.55,8.25,11.70,8.20,11.80,8.20,11.88,8.20,12.00,8.15,12.02,8.20,12.03,8.15,11.85,8.10,11.78,8.10,11.92,8.12,12.20,8.10,12.25,8.08,12.30,8.05,12.32,8.15,11.48,8.02,11.52,7.95,11.65,8.05,11.62,7.98,11.50,7.90,11.62,7.85,11.72,7.95,11.25,8.08,11.35,7.90,11.38,7.80,11.55,7.85,11.62,7.72,11.70,7.62,11.85,7.65,11.95,7.65,12.15,7.70,12.30,7.62,12.32,7.60,11.40,7.65,11.45,7.58,11.60,7.50,11.65,7.48,12.05,7.55,12.05,7.42,12.15,7.45,11.48,7.40,11.55,7.35,11.40,7.40,11.68,7.38,12.05,7.40,11.30,7.38,11.80,8.45];
const bGreenMain=[10.25,7.32,10.35,7.32,10.45,7.30,10.55,7.32,10.65,7.25,10.78,7.18,10.90,7.15,10.98,7.15,10.97,7.05,11.10,7.02,11.12,6.95,10.10,7.25,10.20,7.20,10.25,7.15,10.40,7.18,10.50,7.22,10.62,7.15,10.72,7.10,10.85,7.05,10.02,7.05,10.10,7.10,10.18,7.05,10.30,7.02,10.40,7.02,10.50,7.08,10.68,7.03,10.25,6.95,10.35,6.88,10.45,6.90,10.55,6.95,10.68,6.90,10.78,6.88,10.90,6.85,10.05,6.80,10.15,6.82,10.25,6.80,10.40,6.78,10.52,6.75,10.60,6.75,10.85,6.75,10.02,6.70,9.98,6.62,10.30,6.58,10.28,6.60,10.40,6.55,10.55,6.55,10.70,6.55,10.85,6.58,11.05,6.70,11.05,6.60,11.05,6.55,10.25,6.42,10.28,6.45,10.55,6.45,10.10,6.55,10.75,6.50];
const bKhaki=[11.35,7.32,11.45,7.25,11.55,7.25,11.65,7.25,11.72,7.32,11.75,7.30,11.68,7.20,11.62,7.30,11.68,7.15,11.65,7.10,11.90,7.20,11.95,7.28,12.05,7.28,12.10,7.22,12.12,7.10,11.90,7.05,12.00,7.05,12.05,7.30,11.15,7.05,11.22,7.00,11.30,6.95,11.35,6.85,11.45,6.85,11.50,6.82,11.62,6.85,11.75,6.85,11.80,6.90,12.00,6.90,12.05,6.98,12.15,6.92,12.20,6.85,12.10,6.82,12.02,6.75,11.85,6.82,11.42,6.72,11.55,6.65,11.62,6.55,11.72,6.50,11.68,6.60,11.88,6.75,11.98,6.70,12.12,6.55,12.15,6.62,12.20,6.60,12.02,6.35,12.10,6.40,11.85,6.25,11.95,6.25,11.80,6.32,11.55,6.50];
const bGreenRight=[12.32,7.30,12.38,7.38,12.45,7.42,12.42,7.32,12.50,7.35,12.58,7.30,12.65,7.35,12.70,7.32,12.72,7.28,12.30,7.20,12.42,7.22,12.50,7.25,12.58,7.22,12.64,7.25,12.72,7.18,12.80,7.22,12.90,7.15,12.98,7.22,12.40,7.10,12.50,7.05,12.55,7.05,12.62,7.12,12.78,7.12,12.90,7.20,13.02,7.30,13.05,7.25,13.12,7.35,13.20,7.32,13.25,7.38,13.30,7.35,13.35,7.38,13.44,7.38,13.38,7.32,13.05,7.22,13.15,7.28,13.25,7.22,13.12,7.12,13.25,7.10,12.32,6.48,12.45,6.46,12.80,6.50,12.38,7.40,13.30,7.55,12.40,7.40];
const bOrangeFar=[13.97,6.85,14.02,6.98,14.10,7.00,14.15,6.92,14.20,6.95,14.22,6.98,14.28,7.02,14.35,7.05,14.35,6.98,14.42,7.02,14.42,7.12,14.48,7.05,14.50,7.12,14.55,7.08,14.58,7.05,14.62,7.15,14.48,6.98,14.55,6.92,14.60,6.88,14.58,6.82,14.62,6.80,14.52,6.85,14.27,6.62];
const bBlueFar=[14.92,7.58,14.95,7.45,14.82,7.30,14.88,7.28,15.00,7.40,15.05,7.42,15.10,7.45,15.14,7.52,15.08,7.38,15.02,7.36];
const bSalmonMid=[12.05,6.20,11.92,6.12,11.98,6.10,11.80,6.15,11.82,6.05,11.78,5.95,12.32,6.00,12.38,5.90,12.15,5.72,12.20,5.70,12.25,5.65,12.30,5.62,12.20,5.55,12.28,5.60,12.38,5.58,12.05,5.55,12.10,5.50,12.22,5.50,12.32,5.48,12.40,5.50,12.50,5.40,12.30,5.40,12.25,5.35,11.95,5.40,11.85,5.45,11.78,5.35,11.86,5.25,12.05,5.30,12.18,5.30,12.45,5.30,12.50,5.25,11.98,5.18,12.10,5.15,12.35,5.18];
const bSalmonRight=[13.00,6.12,13.00,6.05,13.08,6.02,13.10,5.95,13.08,5.85,12.85,5.75,12.95,5.68,13.05,5.72,13.05,5.68,13.20,5.62,13.30,5.55,13.40,5.62,13.52,5.58,13.50,5.50,13.60,5.42,13.65,5.50,13.70,5.55,13.80,5.42,13.95,5.28,14.00,5.25,14.00,5.20,13.92,5.18,13.00,5.30,12.95,5.25,13.05,5.25,13.02,5.18,13.25,5.08,13.35,5.05,13.45,5.30,13.55,5.35,13.60,5.28,13.58,5.25,13.48,5.28,13.28,5.22,13.55,4.72,13.50,4.65,13.62,4.80,13.72,4.72,13.75,4.65,13.78,4.60,13.72,4.52,13.72,4.40,13.12,4.58,13.30,4.62,13.38,4.58,13.48,4.60,13.20,4.45,13.30,4.40,13.28,4.38,13.38,4.25,13.65,5.00,13.82,5.10,13.65,4.30,13.00,4.95,13.10,5.05,13.15,5.35];
const bLightBlueMid=[10.90,6.10,10.98,6.02,11.02,5.95,11.10,6.02,11.15,5.92,11.22,5.90,11.30,5.85,11.40,5.92,11.45,5.78,11.52,5.75,11.62,6.00,11.72,5.88,11.80,5.80,11.68,5.72,11.22,5.62,11.20,5.72,11.38,5.68,11.42,5.62,11.48,5.55,11.50,5.50,11.62,5.45,11.70,5.40,11.72,5.38,11.05,5.45,11.10,5.42,11.45,5.40,11.50,5.30,11.20,5.25,11.25,5.32,11.30,5.28,11.35,5.40,11.62,5.35,10.70,5.40,10.55,5.50,10.45,5.55,10.70,5.30,10.75,5.48,10.95,5.50,11.02,5.42,10.50,6.20,10.65,5.70,10.75,5.75,10.82,5.65];
const bPaleCyan=[10.20,6.05,10.25,5.88,10.30,5.95,10.35,5.90,10.40,5.80,10.50,5.80,10.62,5.88,10.28,5.75,10.18,5.62,10.18,5.55,10.15,5.50,10.25,5.62,10.35,5.68,10.05,5.65,10.00,5.55,9.95,5.52,10.00,5.62,9.72,5.55,9.85,5.62,9.90,5.55,8.05,5.85,8.10,5.75,8.15,5.70,8.10,5.62,8.20,5.78,8.30,5.70,8.35,5.70,8.22,5.58,8.33,5.58,8.12,5.50,7.60,5.95,8.30,5.90,8.25,5.45,8.35,5.40,8.50,5.45,8.65,5.40,8.68,5.20,8.65,5.62,8.75,5.50,8.40,5.28,8.35,5.22,8.10,5.25,7.98,5.20,8.12,5.38,8.30,5.30,7.90,5.70,7.82,5.85,7.75,5.90];
const bBlueLeft=[7.52,4.75,7.55,4.58,7.55,4.55,7.60,4.52,7.72,4.92,7.82,4.98,7.90,4.95,7.88,4.85,7.86,4.75,7.95,4.78,7.98,4.75,8.08,5.08,8.12,5.05,8.08,5.00,8.12,4.78,8.20,4.75,7.78,4.62,7.72,4.55,7.75,4.45,7.85,4.45,7.95,4.45,8.02,4.40,8.15,4.55,8.20,4.60,8.12,4.50,8.22,4.42,8.15,4.40,8.22,4.35,8.25,4.30,8.30,4.25,8.35,4.30,8.20,4.25,8.32,4.18,8.42,4.30,8.45,4.95,8.30,4.98,8.33,4.90,8.32,4.84,7.78,4.22,7.78,4.15,7.85,4.10,7.88,4.05];
const bRedLeft=[7.88,4.02,7.95,3.90,8.02,3.85,7.92,3.88,7.95,3.80,7.98,3.75,8.05,3.78,8.07,3.70,8.08,3.60,8.02,3.55,8.05,3.58,8.10,3.48,8.20,3.50,8.65,3.78,8.70,3.55,8.80,3.48,8.85,3.52,8.92,3.50,8.95,3.45,9.00,3.45,9.06,3.65,8.72,3.45,8.30,3.40,7.92,3.15,7.75,3.10,7.80,3.02];
const bKhakiLow=[9.00,5.22,9.10,5.15,9.15,5.10,9.22,5.22,9.25,5.05,9.10,5.00,9.15,4.95,9.25,4.90,9.10,4.85,9.20,4.88,8.85,5.05,8.82,5.00,8.90,4.90,8.95,4.92,9.02,4.78,9.15,4.65,9.28,4.70,9.40,4.75,8.90,4.70,8.55,4.90,8.70,4.88,8.65,4.80,8.85,4.65,9.18,4.40,9.20,4.35,9.30,4.28,9.40,4.35,9.45,4.25,9.30,4.10,9.22,4.15,9.02,4.12,9.05,4.05,9.00,4.00,8.95,4.08,8.90,4.30,8.85,4.15,8.98,4.35,9.03,3.95,8.90,4.40];
const bGreenLow=[9.17,3.85,9.25,3.72,9.30,3.75,9.32,3.82,9.50,3.80,9.60,3.78,9.62,3.85,9.65,3.70,9.60,3.60,9.55,3.55,9.72,3.72,9.70,3.60,9.75,3.62,9.78,3.50,9.80,3.45,9.90,3.50,9.95,3.80,9.90,3.92,10.05,3.72,10.00,3.65,10.05,3.60,9.95,3.55,10.20,3.60,10.32,3.62,10.40,3.50,9.40,3.38,9.52,3.30,9.68,3.30,9.78,3.32,9.95,3.40,10.10,3.50,10.18,3.38,9.95,3.35,10.05,3.25,10.10,3.10,9.90,3.05,9.87,4.95,9.95,4.75,10.02,4.85,10.05,5.10,10.00,5.05,9.85,4.90,10.00,4.70,10.05,5.20,10.35,4.65,10.42,4.90,10.45,4.70,10.70,4.72,10.75,4.68,10.70,5.15,10.75,5.08];
const bPurpleLeft=[4.85,5.18,4.90,5.15,4.85,5.05,4.92,5.08,4.85,4.92,4.82,4.85,4.80,4.80,4.90,4.86,4.95,4.75,4.75,4.65,4.85,4.72,4.90,4.62,4.95,4.72,5.00,4.70,5.05,4.75,5.10,4.80,5.12,4.92,5.15,4.98,5.20,4.90,5.05,4.90,5.08,4.55,5.15,4.55,5.25,4.55,5.25,4.45,5.35,4.52,5.38,4.72,5.40,4.60,5.32,4.62,5.35,4.40,5.40,4.48,5.48,4.95,5.42,4.82,5.35,4.82,5.40,4.92,5.25,5.30,5.30,5.38,5.38,5.40,5.42,5.42,5.60,5.42,5.70,5.45,5.68,5.40,5.70,4.85,5.75,4.85,5.80,4.82,5.78,4.75,5.83,4.75,5.90,4.75,5.72,4.65,5.75,4.60,5.82,4.55,5.92,4.55,5.78,4.52];
const bLilacLow=[6.95,5.70,7.05,5.72,7.10,5.80,7.15,5.82,7.20,5.75,7.30,5.78,7.37,5.75,6.80,5.60,6.90,5.72,6.60,5.70,6.65,5.62,6.45,5.48,6.50,5.45,6.75,5.40,6.85,5.42,6.95,5.45,7.00,5.35,7.15,5.38,7.25,5.42,6.62,5.10,6.62,5.20,6.75,5.12,6.85,5.15,6.90,5.05,6.95,5.10,6.70,5.02,6.80,5.00,6.88,4.90,7.00,5.00,7.02,4.80,7.15,5.00,7.10,4.70,7.55,5.22,6.20,5.00,6.15,4.62,6.12,4.50,6.22,4.55,6.30,4.58,7.10,4.62,7.00,4.50,6.55,4.60,6.62,4.50,6.75,4.65,6.68,4.30,6.75,4.30,6.82,4.30,6.95,4.28,7.05,4.35,7.15,4.28,6.98,4.15,7.02,4.05,7.15,4.12,7.22,4.05,7.05,4.10,7.48,4.08,7.00,3.95];
const bPinkLeft=[6.15,3.76,6.28,3.70,6.30,3.62,6.40,3.62,6.38,3.50,6.50,3.60,6.52,3.72,6.52,3.55,6.55,3.65,6.45,3.45,6.55,3.45,6.70,3.85,6.70,3.60,6.70,3.55,6.72,3.50,6.58,3.32,6.45,3.28,6.52,3.32,6.62,3.30,6.50,3.20,6.52,3.25,6.70,3.12,6.75,3.20,6.80,3.20,6.85,3.15,6.90,3.25,6.95,3.15,7.00,3.12,7.05,3.30,7.15,3.25,7.15,3.20,6.95,3.05,7.00,3.00,7.10,3.05,7.05,3.10,6.85,3.05,6.75,3.02,6.92,3.35,7.20,3.30,7.25,3.05,7.30,3.00,7.40,3.00,7.45,3.02,7.52,2.98,7.60,3.05,7.55,2.98,7.62,3.00,6.98,3.75,7.05,3.62,7.00,3.80,7.15,3.85,7.20,3.80,7.10,3.55,7.28,3.80,7.35,3.85,7.50,3.60,7.60,3.45,7.15,3.55,7.15,3.40];
const bLightBlueSmall=[8.50,2.15,8.55,2.00,8.58,2.05,8.60,1.98,8.62,2.10,8.65,2.05,8.68,2.08,8.72,2.12,8.72,2.18,8.78,2.22,8.85,2.30,8.95,2.15,8.97,2.55,9.05,2.65,9.15,2.42,8.80,2.28,8.58,1.95];
const bTaupeLow=[9.38,2.65,9.42,2.60,9.50,2.62,9.53,2.58,9.58,2.55,9.75,2.45,9.85,2.35,9.90,2.40,9.75,2.15,9.85,2.00,9.90,2.10,9.95,2.00,10.00,2.02,10.10,2.05,10.15,2.10,10.20,2.02,10.05,2.15,10.12,2.08,10.05,2.22,10.15,2.25,10.20,2.28,10.28,2.45,10.18,2.70,10.22,2.60,10.30,2.55,10.35,2.62,9.95,2.50,10.05,2.42,10.15,2.48,10.40,2.00,9.98,1.95];
const bCyanMid=[10.90,5.00,10.80,4.85,11.00,4.68,11.10,4.90,11.18,4.85,11.30,5.15,11.35,5.10,11.42,5.25,11.50,5.00,11.58,4.92,11.65,5.05,11.70,4.95,11.75,4.95,11.78,5.02,11.85,5.05,11.22,4.72,11.28,4.65,11.35,4.75,11.40,4.62,11.50,4.85,11.55,4.80,11.58,4.75,11.62,4.65,11.70,4.75,11.72,4.68,11.15,4.55,11.25,4.52,11.35,4.55,11.00,4.55,11.00,4.45,11.05,4.38,11.10,4.30,11.20,4.28,11.30,4.28,11.45,4.35,11.55,4.35,11.60,4.40,11.65,4.48,11.75,4.40,11.95,4.55,12.05,4.48,12.10,4.50,12.15,4.62,11.42,4.18,11.35,4.25,11.40,4.15,11.67,4.35,11.67,4.18,11.42,4.42,11.45,4.20];
const bBlueMid=[12.30,4.95,12.35,4.90,12.35,4.82,12.42,4.78,12.47,4.88,12.50,5.00,12.70,4.85,12.75,4.78,12.85,4.85,12.90,4.78,12.68,4.72,12.80,4.65,12.85,4.60,13.05,4.72,13.15,4.60,12.90,4.55,12.95,4.50,13.00,4.50,13.05,4.48,13.08,4.42,12.90,4.40,12.85,4.35,12.85,4.20,12.75,4.40,12.60,4.40,12.55,4.20,12.40,4.40,12.28,4.40,12.40,4.25,12.65,4.28];
const bRedMid=[12.18,4.10,12.28,4.07,12.25,4.02,12.27,3.98,12.22,3.82,12.40,4.15,12.45,4.12,12.50,4.05,12.55,4.00,12.58,3.90,12.60,3.95,12.65,3.85,12.75,4.12,12.78,3.97,12.85,3.95,12.92,3.93,12.95,3.85,12.88,3.75,12.90,3.72,12.95,3.68,13.18,3.75,12.70,3.55,12.75,3.48,12.85,3.45,12.90,3.40,12.95,3.42,13.02,3.45,13.05,3.55,12.65,3.25];
const bCyanRight=[12.95,3.45,13.10,3.30,13.30,3.45,13.25,3.42,12.95,3.30,13.00,3.18,13.10,3.15,13.20,3.25,13.25,3.20,13.05,3.08,13.10,3.02,13.15,3.08,13.18,3.00,13.22,3.05,12.95,3.08,12.92,2.95,12.98,3.00,12.88,2.80,13.50,3.60,13.58,3.62,13.60,3.55,13.62,3.48,13.65,3.42,13.50,3.38,13.57,3.18,13.68,3.10,13.70,3.05,13.72,3.00,13.45,2.80,13.40,2.70,13.45,2.75,13.50,2.85,13.55,2.80,13.60,2.88,13.65,2.85,13.70,2.90,13.78,2.82,13.85,2.85,13.80,2.72];
const bLightGray=[10.98,4.40,11.00,4.38,11.02,4.30,11.08,4.32,11.00,4.22,11.05,4.25,10.75,4.00,10.80,3.95,10.85,4.02,10.78,4.05,10.70,3.85,10.58,3.95,10.50,3.90,10.60,4.05,10.55,3.75,10.75,3.78,11.00,3.92,11.08,3.85,11.20,3.90,11.25,3.85,11.18,3.75,11.20,3.72,11.28,3.80,11.10,3.62,10.60,3.50,10.65,3.35,10.75,3.35,11.00,3.45,11.05,3.35,11.10,3.50,10.95,3.25,11.00,3.20,11.10,3.20,10.80,3.15,10.90,3.08,10.95,3.00,11.05,3.05,11.75,3.65,11.85,3.67,11.95,3.78,12.00,3.75,12.05,3.60,12.00,3.55,12.08,3.52,12.05,3.45,12.15,3.42,12.00,3.38,12.08,3.30,12.15,3.25,11.62,3.20,11.72,3.18,11.80,3.25,11.90,3.10,11.30,2.92,11.35,2.80,11.52,2.78,11.62,2.72,12.05,2.85,12.45,3.40,12.35,3.25,12.38,3.10,12.35,3.00,12.40,2.95,12.45,2.92,12.42,2.85,12.35,2.75,12.38,2.70,12.45,2.65,11.70,2.60,11.80,2.55,11.85,2.50,11.95,2.45,12.00,2.50,11.60,2.40];
const bRedLow=[10.40,2.70,10.42,2.78,10.55,2.82,10.62,2.85,10.72,2.90,10.72,2.80,10.42,2.65,10.65,2.60,10.78,2.50,10.75,2.78,10.70,2.55,10.50,3.05,10.62,3.10,10.80,3.12,10.85,3.00,10.95,3.05,10.75,2.72,10.95,2.70,11.00,2.65,11.05,2.72,11.10,2.62,11.15,2.50,11.00,2.42,11.05,2.48,10.85,2.35,10.75,2.30,11.10,2.30,11.25,2.30,11.30,2.28,10.95,2.20,11.00,2.25,11.10,2.12,11.00,2.08,11.05,2.05,10.92,2.00,11.15,2.00,11.30,2.18,11.42,2.12,11.45,2.10,10.80,2.02,10.85,2.12,11.55,2.05,11.52,2.02,11.48,2.12,11.32,2.72,11.42,2.65,11.52,2.60,11.50,2.68,11.38,2.50,11.45,2.55];
const bOrangeLow=[12.15,2.40,12.18,2.45,12.22,2.42,12.45,2.55,12.45,2.45,12.55,2.50,12.60,2.55,12.65,2.50,12.68,2.48,12.72,2.45,12.75,2.72,12.78,2.60,12.82,2.65,12.88,2.68,13.00,2.75,13.05,2.65,13.10,2.60,12.85,2.55,12.88,2.40,12.95,2.30,13.05,2.30,13.00,2.25,13.10,2.30,13.15,2.20,13.22,2.60,13.20,2.40,13.15,2.45,13.10,2.15,13.18,2.05,12.12,2.35,12.30,2.30,12.35,2.30,12.28,2.10,12.32,2.05,12.45,2.05,12.55,2.10,12.60,2.25,12.65,2.15,12.72,2.20,12.80,2.05,12.90,2.20,12.95,2.10,13.00,2.00,13.10,1.95,13.15,1.90,13.05,1.85,13.10,1.85,12.40,1.72,12.68,2.00,13.08,1.72,12.90,1.62,13.05,1.80,13.15,1.95,13.18,2.00];
const bOliveLow=[11.62,2.10,11.65,2.15,11.52,2.05,11.60,2.02,11.45,2.00,11.70,2.05,11.78,2.02,11.85,2.05,11.92,2.05,12.00,2.00,12.10,1.95,12.05,2.12,12.15,2.05,11.10,1.95,11.02,1.90,11.30,1.95,11.25,1.85,11.15,1.72,11.30,1.72,11.42,1.70,11.50,1.72,11.60,1.70,11.65,1.75,11.72,1.80,11.80,1.85,11.90,1.80,12.00,1.78,12.15,1.85,11.35,1.55,11.45,1.50,11.52,1.55,11.70,1.45,11.85,1.45,12.03,1.48,11.20,1.45,11.28,1.38,11.35,1.30,11.25,1.20,11.30,1.10,11.42,1.05,11.60,1.10,11.65,1.20,11.72,1.15,11.80,1.10,11.85,1.05,11.90,1.10,12.00,1.08,11.95,1.15,12.05,1.20,11.85,1.00,11.78,1.00,11.25,1.02];
const bPinkLow=[10.48,2.00,10.50,1.90,10.60,1.85,10.62,1.72,10.70,1.88,10.75,1.90,10.60,1.65,10.55,1.55,10.65,1.52,10.70,1.62,10.42,1.50,10.38,1.40,10.30,1.35,10.15,1.50,10.25,1.45,10.25,1.30,10.10,1.30,10.00,1.25,10.15,1.20,10.22,1.18,10.00,1.10,10.10,1.05,10.20,1.05,10.25,1.10,10.30,1.20,10.45,1.30,10.95,1.30,10.90,1.45,11.05,1.40,10.95,1.25,10.90,1.10,10.98,1.10,11.05,1.05,10.95,1.18];
const bBrownLow=[12.38,1.25,12.45,1.18,12.20,0.95,12.15,0.90,12.45,1.00,12.50,1.10,12.55,1.05,12.60,1.12,12.65,1.05,12.72,1.15,12.78,1.08,12.55,0.95,12.60,0.88,12.70,0.95,12.75,0.88,12.68,0.80,12.80,0.85,12.82,0.78,12.72,0.75,12.88,0.68,12.35,0.80,12.45,0.80,12.92,1.42,13.02,1.42,12.95,1.22,12.95,1.10,13.00,1.05,13.05,1.10,13.10,1.15,13.15,1.00,13.20,1.05,12.92,0.95,12.98,0.98,13.08,0.90,13.12,0.82,12.98,0.85,12.90,0.82,12.92,0.72,12.90,0.65,12.95,0.60,13.00,0.42,13.03,0.45,13.08,0.42,13.12,0.40,13.05,0.37,12.98,0.50];

// ---------- Cluster → colour pairing ----------
const rawDescriptionClusters=[[aBrownL,'#8c564b'],[aBrownR,'#8c564b'],[aPeachTL,'#ffbb78'],[aGray,'#7f7f7f'],[aLightBlueTop,'#aec7e8'],[aBlueTop,'#1f77b4'],[aOlive,'#bcbd22'],[aCyanTop,'#17becf'],[aPaleCyan,'#9edae5'],[aLightGreen,'#98df8a'],[aKhaki,'#dbdb8d'],[aGreenTop,'#2ca02c'],[aGreenLow,'#2ca02c'],[aCyanLeft,'#17becf'],[aLightGray,'#c7c7c7'],[aPaleLilac,'#c5b0d5'],[aPurpleTop,'#9467bd'],[aOrangeUp,'#ff7f0e'],[aRedMid,'#d62728'],[aSalmonUp,'#ff9896'],[aOrangeUpR,'#ff7f0e'],[aTaupeUp,'#c49c94'],[aPeachBig,'#ffbb78'],[aRedRight,'#d62728'],[aLightBlueMid,'#aec7e8'],[aLilacMid,'#c5b0d5'],[aPurpleLow,'#9467bd'],[aKhakiLow,'#dbdb8d'],[aPinkUp,'#f7b6d2'],[aOliveLow,'#bcbd22'],[aBlueRight,'#1f77b4'],[aPinkLow,'#e377c2'],[aLightGreenBot,'#98df8a'],[aGreenSmall,'#2ca02c'],[aBlueLow,'#1f77b4'],[aLilacLow,'#c5b0d5'],[aBlueLight,'#aec7e8'],[aPinkLowL,'#f7b6d2'],[aGreenLeftLow,'#98df8a'],[aOrangeLow,'#ff7f0e'],[aPurpleLeft,'#9467bd'],[aPinkLeft,'#e377c2'],[aPaleCyanMid,'#9edae5'],[aSalmonMid,'#ff9896']];
const geminiDescriptionClusters=[[bPeachTop,'#ffbb78'],[bPeachLeft,'#ffbb78'],[bTaupe,'#c49c94'],[bLightBlueTop,'#aec7e8'],[bLilacLeft,'#c5b0d5'],[bBrown,'#8c564b'],[bGray,'#7f7f7f'],[bPurpleTop,'#9467bd'],[bPinkTop,'#e377c2'],[bPinkRight,'#e377c2'],[bOliveTop,'#bcbd22'],[bLightGreenTop,'#98df8a'],[bGreenTop,'#2ca02c'],[bOrangeMid,'#ff7f0e'],[bGreenMain,'#2ca02c'],[bKhaki,'#dbdb8d'],[bGreenRight,'#2ca02c'],[bOrangeFar,'#ff7f0e'],[bBlueFar,'#1f77b4'],[bSalmonMid,'#ff9896'],[bSalmonRight,'#ff9896'],[bLightBlueMid,'#aec7e8'],[bPaleCyan,'#9edae5'],[bBlueLeft,'#1f77b4'],[bRedLeft,'#d62728'],[bKhakiLow,'#dbdb8d'],[bGreenLow,'#98df8a'],[bPurpleLeft,'#9467bd'],[bLilacLow,'#c5b0d5'],[bPinkLeft,'#f7b6d2'],[bLightBlueSmall,'#aec7e8'],[bTaupeLow,'#c49c94'],[bCyanMid,'#17becf'],[bBlueMid,'#1f77b4'],[bRedMid,'#d62728'],[bCyanRight,'#17becf'],[bLightGray,'#c7c7c7'],[bRedLow,'#d62728'],[bOrangeLow,'#ff7f0e'],[bOliveLow,'#bcbd22'],[bPinkLow,'#f7b6d2'],[bBrownLow,'#8c564b']];

// ---------- Helpers ----------
const NS='http://www.w3.org/2000/svg';
const root=document.getElementById('figure');
function mk(tag,attrs,parent){
  const e=document.createElementNS(NS,tag);
  for(const k in attrs)e.setAttribute(k,attrs[k]);
  (parent||root).appendChild(e);
  return e;
}
function label(str,x,y,size,anchor,parent,extra){
  const t=mk('text',Object.assign({x:x,y:y,'font-size':size,'text-anchor':anchor||'middle'},extra||{}),parent);
  t.textContent=str;
  return t;
}
function linear(d0,p0,d1,p1){return v=>p0+(v-d0)*(p1-p0)/(d1-d0);}

function axes(name,box,sx,sy,xTicks,yTicks,fmtY,xTitle,yTitle,yTitleX,title){
  const g=mk('g',{});
  
  
  const frame=mk('rect',{x:box.l,y:box.t,width:box.r-box.l,height:box.b-box.t,fill:'#fff',stroke:'none'},g);
  
  
  xTicks.forEach(v=>{
    const tick=mk('line',{x1:sx(v),x2:sx(v),y1:box.b,y2:box.b+7,stroke:'#111','stroke-width':1.6},g);
    
    
    const tl=label(String(v),sx(v),box.b+40,FS.tick,'middle',g);
    
    
  });
  yTicks.forEach(v=>{
    const tick=mk('line',{x1:box.l-7,x2:box.l,y1:sy(v),y2:sy(v),stroke:'#111','stroke-width':1.6},g);
    
    
    const tl=label(fmtY(v),box.l-20.5,sy(v)+9.5,FS.tick,'end',g);
    
    
  });
  const xl=label(xTitle,(box.l+box.r)/2,box.b+77,FS.label,'middle',g);
  
  
  if(yTitle){
    const cy=(box.t+box.b)/2;
    const yl=label(yTitle,yTitleX,cy,FS.label,'middle',g,{transform:'rotate(-90 '+yTitleX+' '+cy+')'});
    
    
  }
  const tt=label(title,(box.l+box.r)/2,box.t-18,FS.title,'middle',g);
  
  
  return g;
}
function frameOnTop(name,box){
  const f=mk('rect',{x:box.l,y:box.t,width:box.r-box.l,height:box.b-box.t,fill:'none',stroke:'#111','stroke-width':1.8});
  
  
}
function scatter(name,clusters,sx,sy){
  const g=mk('g',{});
  
  
  clusters.forEach(pair=>{
    const arr=pair[0];
    for(let i=0;i+1<arr.length;i+=2){
      const c=mk('circle',{cx:sx(arr[i]),cy:sy(arr[i+1]),r:2.1,fill:pair[1],stroke:'#fff','stroke-width':.3},g);
      
      
    }
  });
}
function marker(kind,x,y,color,parent){
  if(kind==='circle'){
    return mk('circle',{cx:x,cy:y,r:6.6,fill:color,stroke:'#fff','stroke-width':1.4},parent);
  }
  return mk('rect',{x:x-6.2,y:y-6.2,width:12.4,height:12.4,fill:color,stroke:'#fff','stroke-width':1.4},parent);
}
function series(name,xs,ys,sx,sy,color,kind){
  const g=mk('g',{});
  
  
  const d=xs.map((v,i)=>sx(v).toFixed(1)+','+sy(ys[i]).toFixed(1)).join(' ');
  const pl=mk('polyline',{points:d,fill:'none',stroke:color,'stroke-width':3.6,'stroke-linejoin':'round'},g);
  
  
  xs.forEach((v,i)=>{
    const m=marker(kind,sx(v),sy(ys[i]),color,g);
    
    
  });
}
function legend(name,x,y,w,h){
  const g=mk('g',{});
  
  
  const bg=mk('rect',{x:x,y:y,width:w,height:h,rx:4,ry:4,fill:'#fff','fill-opacity':.8,stroke:'#ccc','stroke-width':2},g);
  
  
  [['LLM Descriptions','#1f77b4','circle',22],['Raw Descriptions','#ff7f0e','square',60]].forEach(it=>{
    const ry=y+it[3];
    const ln=mk('line',{x1:x+9,x2:x+65,y1:ry,y2:ry,stroke:it[1],'stroke-width':3.6},g);
    
    
    const m=marker(it[2],x+37,ry,it[1],g);
    
    
    const t=label(it[0],x+85,ry+9,FS.legend,'start',g);
    
    
  });
}

// ---------- Layout ----------
const FS={tick:26.3,label:26.2,title:29.2,legend:26.1,panel:31.5};
const boxA={l:137,r:727,t:62,b:598};
const boxB={l:845,r:1435,t:62,b:598};
const boxC={l:137,r:727,t:735,b:1109};
const boxD={l:845,r:1435,t:735,b:1109};

const sxA=linear(12,234,18,633),syA=linear(3,576,10,117);
const sxB=linear(6,937,14,1350),syB=linear(0,592,10,112);
const sxC=linear(20,248,100,700),syC=linear(.36,1087,.46,784);
const sxD=linear(20,956,100,1409),syD=linear(2500,1098,5000,749);

axes('raw-umap',boxA,sxA,syA,umapARawXTicks,umapARawYTicks,String,'UMAP 1','UMAP 2',64,'Raw Descriptions');
scatter('raw-umap',rawDescriptionClusters,sxA,syA);
frameOnTop('raw-umap',boxA);

axes('gemini-umap',boxB,sxB,syB,umapBGemXTicks,umapBGemYTicks,String,'UMAP 1',null,0,'Gemini Descriptions');
scatter('gemini-umap',geminiDescriptionClusters,sxB,syB);
frameOnTop('gemini-umap',boxB);

axes('silhouette',boxC,sxC,syC,clusterTicks,silhouetteTicks,v=>v.toFixed(2),'Number of clusters','Score',43,'Silhouette Score');
series('silhouette-llm-series',clusterCounts,silhouetteLLM,sxC,syC,'#1f77b4','circle');
series('silhouette-raw-series',clusterCounts,silhouetteRaw,sxC,syC,'#ff7f0e','square');
frameOnTop('silhouette',boxC);
legend('silhouette-legend',382,1012,332,85);

axes('calinski',boxD,sxD,syD,clusterTicks,calinskiTicks,String,'Number of clusters',null,0,'Calinski-Harabasz Score');
series('calinski-llm-series',clusterCounts,calinskiLLM,sxD,syD,'#1f77b4','circle');
series('calinski-raw-series',clusterCounts,calinskiRaw,sxD,syD,'#ff7f0e','square');
frameOnTop('calinski',boxD);
legend('calinski-legend',858,747,331,85);

[['A',52,45,'panel-label-a-top'],['B',760,45,'panel-label-b-top'],['A',52,731,'panel-label-a-bottom'],['B',760,731,'panel-label-b-bottom']].forEach(p=>{
  const t=label(p[0],p[1],p[2],FS.panel,'start',root,{'font-weight':'bold'});
  
  
});
</script>
</body>
</html>
